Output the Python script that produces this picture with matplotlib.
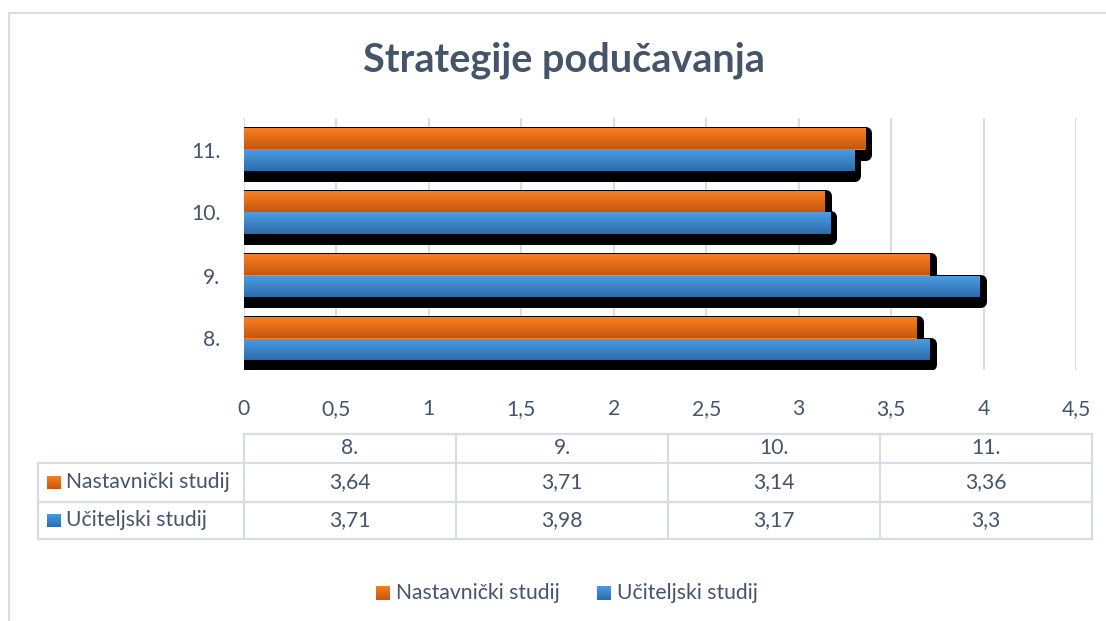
import numpy as np
import matplotlib
matplotlib.use("Agg")
import matplotlib.pyplot as plt
from matplotlib.colors import LinearSegmentedColormap
from matplotlib.transforms import ScaledTranslation
from matplotlib.lines import Line2D

# ---------------- data ----------------
title = "Strategije podučavanja"
categories = ["8.", "9.", "10.", "11."]
series_names = ["Nastavnički studij", "Učiteljski studij"]
nastavnicki = [3.64, 3.71, 3.14, 3.36]
uciteljski = [3.71, 3.98, 3.17, 3.3]
table_labels = ["3,64", "3,71", "3,14", "3,36"], ["3,71", "3,98", "3,17", "3,3"]
xticks = [0, 0.5, 1, 1.5, 2, 2.5, 3, 3.5, 4, 4.5]
xticklabels = ["0", "0,5", "1", "1,5", "2", "2,5", "3", "3,5", "4", "4,5"]

# ---------------- style ----------------
W, H, DPI = 1106, 621, 100
FONT = "Lato"
TXT = "#44546A"
GRID = "#D9DDE3"
ORANGE = ("#FF801F", "#C4570F")   # top, bottom
BLUE = ("#4C9EE6", "#2D6BAA")
FS = 15.2
TFS = 28.5

plt.rcParams["font.family"] = [FONT, "DejaVu Sans"]

fig = plt.figure(figsize=(W / DPI, H / DPI), dpi=DPI)
fig.patch.set_facecolor("white")


def fx(px):
    return px / W


def fy(py):
    return 1 - py / H


ax = fig.add_axes([fx(244), fy(370), fx(1076) - fx(244), fy(118) - fy(370)])
ax.set_facecolor("white")

idx = np.arange(len(categories))
h = 0.34
off = h / 2

# shadows
shadow_tr = ax.transData + ScaledTranslation(1 / DPI, -5 / DPI, fig.dpi_scale_trans)
for vals, pos in ((nastavnicki, idx + off), (uciteljski, idx - off)):
    sb = ax.barh(pos, vals, height=h, color="black", edgecolor="black",
                 linewidth=12 * 72 / DPI, zorder=2)
    for p in sb:
        p.set_transform(shadow_tr)
        p.set_joinstyle("round")


def grad_fill(patch, top, bottom, z):
    x0, y0 = patch.get_x(), patch.get_y()
    w, hh = patch.get_width(), patch.get_height()
    cmap = LinearSegmentedColormap.from_list("g", [bottom, top])
    grad = np.linspace(0, 1, 64).reshape(-1, 1)
    im = ax.imshow(grad, cmap=cmap, extent=(x0, x0 + w, y0, y0 + hh),
                   origin="lower", aspect="auto", zorder=z, interpolation="bilinear")
    im.set_clip_path(patch)


bars_n = ax.barh(idx + off, nastavnicki, height=h, color=ORANGE[0], linewidth=0, zorder=3)
bars_u = ax.barh(idx - off, uciteljski, height=h, color=BLUE[0], linewidth=0, zorder=3)
for p in bars_n:
    grad_fill(p, ORANGE[0], ORANGE[1], 3.5)
for p in bars_u:
    grad_fill(p, BLUE[0], BLUE[1], 3.5)

ax.set_xlim(0, 4.5)
ax.set_ylim(-0.5, len(categories) - 0.5)
ax.set_xticks(xticks)
ax.set_xticklabels(xticklabels)
ax.set_yticks(idx)
ax.set_yticklabels(categories)
ax.tick_params(axis="both", length=0, labelsize=FS, colors=TXT)
ax.tick_params(axis="x", pad=21)
ax.tick_params(axis="y", pad=17)
ax.grid(axis="x", color=GRID, linewidth=1.5, zorder=0)
ax.set_axisbelow(True)
for s in ax.spines.values():
    s.set_visible(False)

# title
fig.text(fx(564), fy(60), title, ha="center", va="center", fontsize=TFS,
         fontweight="bold", color=TXT)

# outer border (partially visible)
fig.add_artist(Line2D([fx(8.5), fx(8.5)], [fy(12.5), 0], color=GRID, lw=1.5))
fig.add_artist(Line2D([fx(8.5), 1], [fy(12.5), fy(12.5)], color=GRID, lw=1.5))

# ---------------- data table ----------------
col_edges = [244, 456, 668, 880, 1092]
row_edges = [434, 463, 502, 539]
left = 38
lw = 1.6
fig.add_artist(Line2D([fx(244), fx(1092)], [fy(434), fy(434)], color=GRID, lw=lw))
for y in row_edges[1:]:
    fig.add_artist(Line2D([fx(left), fx(1092)], [fy(y), fy(y)], color=GRID, lw=lw))
for x in col_edges:
    fig.add_artist(Line2D([fx(x), fx(x)], [fy(434), fy(539)], color=GRID, lw=lw))
fig.add_artist(Line2D([fx(left), fx(left)], [fy(463), fy(539)], color=GRID, lw=lw))

for j, cat in enumerate(categories):
    cx = (col_edges[j] + col_edges[j + 1]) / 2
    fig.text(fx(cx), fy((434 + 463) / 2), cat, ha="center", va="center",
             fontsize=FS, color=TXT)
    for r in range(2):
        cy = (row_edges[r + 1] + row_edges[r + 2]) / 2
        fig.text(fx(cx), fy(cy), table_labels[r][j], ha="center", va="center",
                 fontsize=FS, color=TXT)


def key(xpx, ypx, colors):
    size = 14
    cmap = LinearSegmentedColormap.from_list("k", [colors[1], colors[0]])
    kax = fig.add_axes([fx(xpx), fy(ypx + size / 2), size / W, size / H])
    kax.imshow(np.linspace(0, 1, 32).reshape(-1, 1), cmap=cmap, origin="lower",
               aspect="auto", extent=(0, 1, 0, 1))
    kax.axis("off")


series_colors = [ORANGE, BLUE]
for r in range(2):
    cy = (row_edges[r + 1] + row_edges[r + 2]) / 2
    key(47, cy, series_colors[r])
    fig.text(fx(66), fy(cy), series_names[r], ha="left", va="center",
             fontsize=FS, color=TXT)

# ---------------- bottom legend ----------------
leg_y = 593
key(376, leg_y, ORANGE)
fig.text(fx(396), fy(leg_y), series_names[0], ha="left", va="center",
         fontsize=FS, color=TXT)
key(597, leg_y, BLUE)
fig.text(fx(617), fy(leg_y), series_names[1], ha="left", va="center",
         fontsize=FS, color=TXT)

fig.savefig("out.png", dpi=DPI)
